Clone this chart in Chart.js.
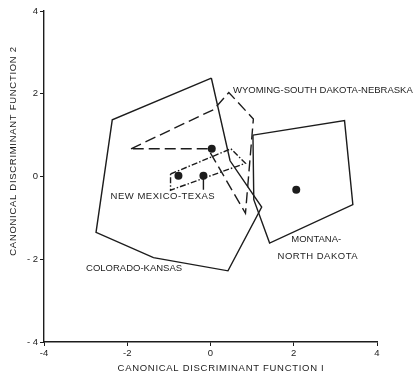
<!DOCTYPE html>
<html>
<head>
<meta charset="utf-8">
<script src="https://cdn.jsdelivr.net/npm/chart.js@4.4.1/dist/chart.umd.min.js"></script>
<style>
  html, body { margin: 0; padding: 0; background: #fff; }
  #wrap { width: 413px; height: 375px; }
</style>
</head>
<body>
<div id="wrap"><canvas id="plot" width="413" height="375"></canvas></div>
<script>
// outlines of each regional group on the first two canonical functions
const coloradoX = [0.02, -2.36, -2.75, -1.37, 0.42, 1.23, 0.47];
const coloradoY = [2.38, 1.37, -1.35, -1.96, -2.28, -0.74, 0.38];
const montanaX = [1.02, 3.22, 3.42, 1.42, 1.04];
const montanaY = [1.00, 1.35, -0.68, -1.61, -0.56];
const wyomingX = [-1.91, 0.08, 0.44, 1.03, 0.84, -0.06];
const wyomingY = [0.67, 1.62, 2.03, 1.39, -0.89, 0.67];
const newMexicoX = [-0.96, 0.49, 0.84, -0.96];
const newMexicoY = [0.06, 0.67, 0.32, -0.33];

// group centroids
const centroidX = [-0.77, -0.17, 0.03, 2.06];
const centroidY = [0.02, 0.02, 0.67, -0.32];

// pointer from the New Mexico-Texas centroid to its label
const leaderX = [-0.17, -0.17];
const leaderY = [0.02, -0.32];

const axisTicks = [-4, -2, 0, 2, 4];

const INK = '#1c1c1c';
const FONT = '"Liberation Sans", Arial, sans-serif';

const groupLabels = [
  { text: 'WYOMING-SOUTH DAKOTA-NEBRASKA', x: 0.54, y: 2.07, spacing: '0px' },
  { text: 'NEW MEXICO-TEXAS', x: -2.40, y: -0.48, spacing: '0.5px' },
  { text: 'MONTANA-', x: 1.94, y: -1.51, spacing: '0px' },
  { text: 'NORTH DAKOTA', x: 1.61, y: -1.92, spacing: '0.5px' },
  { text: 'COLORADO-KANSAS', x: -2.99, y: -2.21, spacing: '0px' }
];

function points(xs, ys, close) {
  const pts = xs.map((x, i) => ({ x: x, y: ys[i] }));
  if (close) pts.push(pts[0]);
  return pts;
}

function outline(data, dash) {
  return {
    type: 'line',
    data: data,
    borderColor: INK,
    borderWidth: 1.4,
    borderDash: dash,
    pointRadius: 0,
    fill: false,
    tension: 0
  };
}

// region names and both axis titles
const annotate = {
  id: 'annotate',
  afterDatasetsDraw(chart) {
    const { ctx, scales, chartArea } = chart;
    ctx.save();
    ctx.fillStyle = INK;
    ctx.font = '9.5px ' + FONT;
    ctx.textBaseline = 'middle';
    ctx.textAlign = 'left';
    groupLabels.forEach(l => {
      ctx.letterSpacing = l.spacing;
      ctx.fillText(l.text, scales.x.getPixelForValue(l.x), scales.y.getPixelForValue(l.y));
    });

    ctx.letterSpacing = '0.7px';
    ctx.textAlign = 'center';
    ctx.fillText('CANONICAL DISCRIMINANT FUNCTION I', 221, 368);
    ctx.translate(13, 151);
    ctx.rotate(-Math.PI / 2);
    ctx.fillText('CANONICAL DISCRIMINANT FUNCTION 2', 0, 0);
    ctx.restore();
  }
};

const axisStyle = {
  type: 'linear',
  min: -4,
  max: 4,
  grid: { drawOnChartArea: false, drawTicks: true, tickLength: 4, color: INK, lineWidth: 1 },
  border: { display: true, color: INK, width: 1.4 },
  ticks: { color: INK, font: { family: FONT, size: 9.5 }, padding: 2 },
  afterBuildTicks: scale => { scale.ticks = axisTicks.map(v => ({ value: v })); }
};

new Chart(document.getElementById('plot'), {
  type: 'scatter',
  data: {
    datasets: [
      outline(points(coloradoX, coloradoY, true), []),
      outline(points(montanaX, montanaY, true), []),
      outline(points(wyomingX, wyomingY, true), [11, 5]),
      outline(points(newMexicoX, newMexicoY, true), [6, 2, 1.5, 2]),
      outline(points(leaderX, leaderY, false), []),
      {
        data: points(centroidX, centroidY, false),
        pointRadius: 4,
        pointBackgroundColor: INK,
        pointBorderWidth: 0,
        showLine: false
      }
    ]
  },
  options: {
    responsive: false,
    animation: false,
    layout: { padding: { top: 11, right: 36, left: 0, bottom: 0 } },
    plugins: { legend: { display: false }, tooltip: { enabled: false } },
    scales: {
      x: Object.assign({}, axisStyle, {
        ticks: Object.assign({}, axisStyle.ticks, { callback: v => v < 0 ? '-' + Math.abs(v) : '' + v }),
        afterFit: s => { s.height = 33; }
      }),
      y: Object.assign({}, axisStyle, {
        ticks: Object.assign({}, axisStyle.ticks, { callback: v => v < 0 ? '- ' + Math.abs(v) : '' + v }),
        afterFit: s => { s.width = 44; }
      })
    }
  },
  plugins: [annotate]
});
</script>
</body>
</html>
